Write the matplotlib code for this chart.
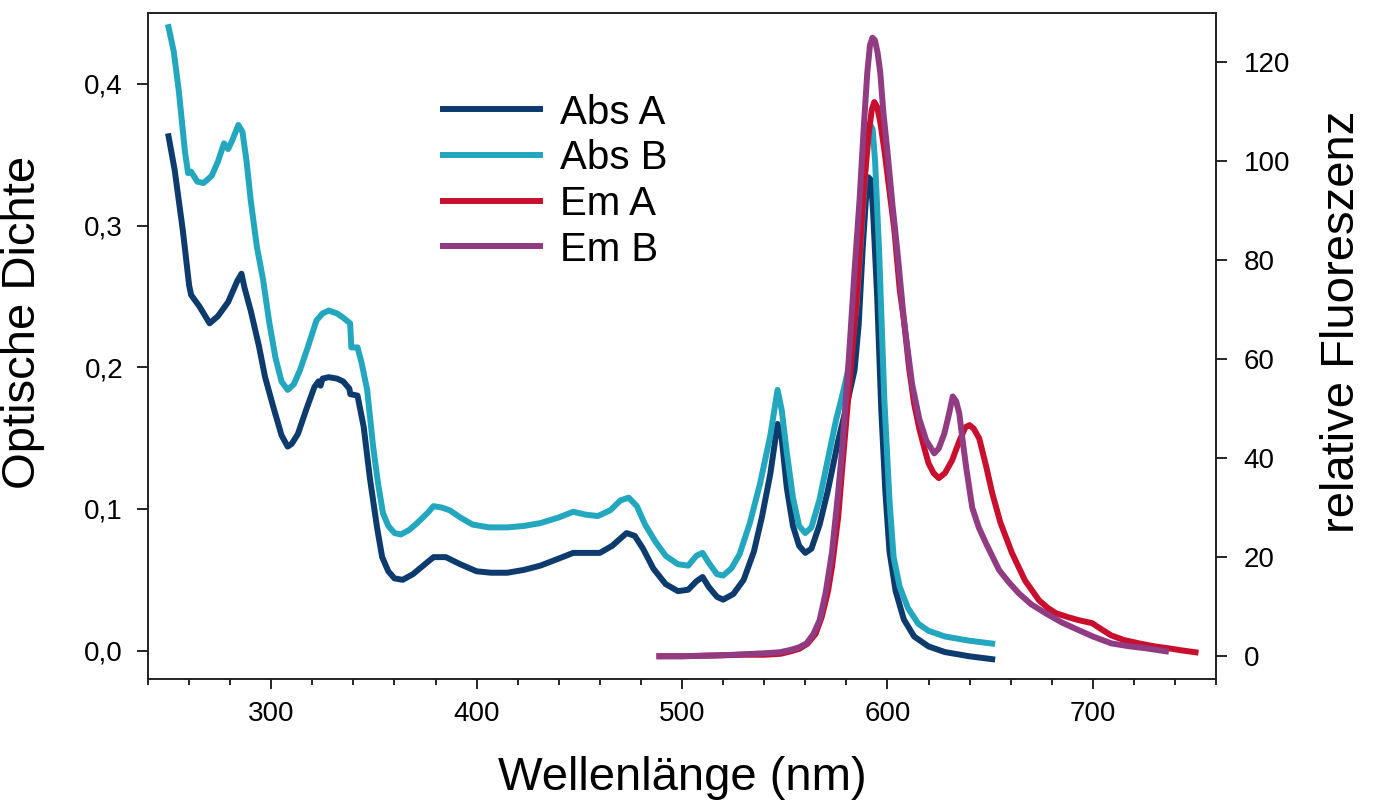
import matplotlib
matplotlib.use("Agg")
import matplotlib.pyplot as plt
from matplotlib.ticker import MultipleLocator, FuncFormatter

plt.rcParams['font.family'] = ['Liberation Sans', 'DejaVu Sans']

# Absorption A (optische Dichte)
wl_abs_a = [250, 253, 257, 260, 261, 265, 270, 274, 279, 283.5, 285.5, 287, 290, 294, 297,
            301, 305, 308, 310, 313, 317, 321, 323, 324, 325, 328, 332, 335, 338, 338.5,
            342, 345, 348, 351.5, 354, 357, 360, 364, 369, 374, 379, 385, 392, 400, 407,
            415, 423, 431, 440, 447, 454, 460, 466, 473, 477, 481, 486, 492, 498, 503,
            507, 510, 513, 517, 520, 525, 530, 535, 539, 543, 546.5, 548.5, 551, 554, 557,
            560, 563, 567, 571, 576, 580, 584, 586, 588, 589.5, 590.8, 592, 593, 595, 597, 599,
            601, 604, 608, 613, 620, 628, 640, 651]
od_abs_a = [0.363, 0.339, 0.296, 0.258, 0.251, 0.243, 0.231, 0.236, 0.246, 0.261, 0.266, 0.256,
            0.240, 0.215, 0.193, 0.172, 0.152, 0.144, 0.146, 0.153, 0.170, 0.186, 0.190, 0.187,
            0.192, 0.193, 0.192, 0.190, 0.185, 0.181, 0.180, 0.158, 0.122, 0.087, 0.066, 0.056,
            0.051, 0.050, 0.054, 0.060, 0.066, 0.066, 0.061, 0.056, 0.055, 0.055, 0.057, 0.060,
            0.065, 0.069, 0.069, 0.069, 0.074, 0.083, 0.081, 0.072, 0.058, 0.047, 0.042, 0.043,
            0.049, 0.052, 0.045, 0.038, 0.036, 0.040, 0.050, 0.070, 0.095, 0.125, 0.160, 0.150,
            0.115, 0.088, 0.074, 0.069, 0.072, 0.089, 0.113, 0.148, 0.172, 0.198, 0.230, 0.285,
            0.318, 0.334, 0.332, 0.310, 0.250, 0.170, 0.112, 0.070, 0.042, 0.022, 0.010, 0.003,
            -0.001, -0.004, -0.006]

# Absorption B
wl_abs_b = [250, 252.5, 255, 258, 259.5, 261, 264, 267, 271, 274, 277, 279, 281, 284, 286,
            288, 290, 293, 296, 299, 302, 305, 308, 311, 314, 318, 322, 325, 328, 332, 335,
            338.4, 339, 342, 344, 346.7, 349.6, 352, 354.4, 357, 360, 363, 367, 371, 376,
            379, 383, 387, 392, 398, 406, 415, 423, 431, 440, 447, 453, 459, 465, 470, 474,
            478, 482, 487, 492, 498, 503, 507, 510, 513, 517, 520, 524, 528, 533, 538, 543,
            546.5, 548.5, 551, 554, 557, 560, 563, 567, 571, 575, 578, 582, 585, 588, 589.8,
            591.3, 592.8, 594, 596, 598.5, 601, 603, 606, 610, 615, 620, 628, 640, 651]
od_abs_b = [0.440, 0.423, 0.395, 0.352, 0.337, 0.338, 0.331, 0.330, 0.335, 0.345, 0.358, 0.354,
            0.360, 0.371, 0.366, 0.345, 0.318, 0.285, 0.262, 0.232, 0.207, 0.190, 0.184, 0.188,
            0.198, 0.215, 0.233, 0.238, 0.240, 0.238, 0.235, 0.231, 0.214, 0.214, 0.203, 0.184,
            0.144, 0.118, 0.097, 0.088, 0.083, 0.082, 0.085, 0.090, 0.097, 0.102, 0.101, 0.099,
            0.094, 0.089, 0.087, 0.087, 0.088, 0.090, 0.094, 0.098, 0.096, 0.095, 0.099, 0.106,
            0.108, 0.102, 0.089, 0.077, 0.067, 0.061, 0.060, 0.067, 0.069, 0.062, 0.054, 0.053,
            0.058, 0.068, 0.090, 0.118, 0.152, 0.184, 0.170, 0.140, 0.108, 0.088, 0.083, 0.087,
            0.107, 0.135, 0.163, 0.180, 0.205, 0.245, 0.310, 0.352, 0.372, 0.368, 0.345, 0.280,
            0.177, 0.106, 0.066, 0.045, 0.030, 0.019, 0.014, 0.010, 0.007, 0.005]

# Emission A (relative Fluoreszenz)
wl_em_a = [489, 500, 510, 520, 530, 540, 548, 553, 557, 561, 565, 568, 571, 573, 576, 578,
           581.5, 585, 588.8, 591, 592.4, 593.6, 595, 596.5, 598.6, 601, 603.4, 606, 608, 610.6,
           613, 615.5, 618, 620, 622.5, 625, 628, 631.5, 635, 638, 640, 642, 644.7, 648, 651,
           655, 660.7, 667, 673.8, 678, 682, 688, 693, 699.6, 704, 709, 715, 722.5, 730, 737,
           743, 750]
fl_em_a = [0.0, 0.0, 0.1, 0.2, 0.3, 0.3, 0.5, 1.0, 1.5, 2.5, 4.5, 7.9, 13, 18, 28, 38,
           55, 72, 96, 106, 110.5, 112, 111, 108, 102, 94, 86, 74, 68, 58,
           51, 46, 42, 39, 37, 36, 37, 39.6, 43.5, 46.3, 46.7, 46, 44, 38.5, 33,
           27, 20.8, 15.3, 11.3, 9.8, 8.7, 7.9, 7.3, 6.7, 5.5, 4.2, 3.3, 2.6, 2.0, 1.6,
           1.2, 0.8]

# Emission B
wl_em_b = [489, 500, 510, 520, 530, 540, 547.5, 553, 557, 560.6, 564, 567, 570, 573, 576,
           578, 581.5, 584, 586.4, 588.5, 590.2, 591.5, 592.7, 593.9, 595.2, 596.5, 598, 600,
           602.5, 604.8, 608, 612, 615.5, 618.9, 622.8, 625, 627.7, 630, 631.8, 633.5, 635,
           636.8, 638.4, 641.3, 644.5, 648, 654.4, 659, 664, 670, 677, 685, 693, 700, 709,
           718, 726, 735.6]
fl_em_b = [0.0, 0.0, 0.1, 0.2, 0.4, 0.6, 0.8, 1.3, 1.8, 2.6, 4.5, 7.3, 13, 21, 33,
           42, 62, 78, 92, 107, 118, 123.5, 125, 124.5, 122, 118, 110, 102,
           91, 82, 68, 55, 48, 43.6, 41, 42, 45, 49, 52.5, 51.5, 49,
           43, 38, 30, 26, 22.8, 17.4, 15, 12.7, 10.5, 8.7, 6.8, 5.3, 4.0, 2.6,
           2.0, 1.6, 1.0]

farben = {'Abs A': '#0d3b6e', 'Abs B': '#22a7be', 'Em A': '#c8102e', 'Em B': '#913b82'}
lw = 4.3

fig, ax = plt.subplots(figsize=(13.73, 8.01), dpi=100)
fig.subplots_adjust(left=0.1078, right=0.8857, bottom=0.1523, top=0.9838)
ax2 = ax.twinx()

l1, = ax.plot(wl_abs_a, od_abs_a, color=farben['Abs A'], lw=lw, label='Abs A')
l2, = ax.plot(wl_abs_b, od_abs_b, color=farben['Abs B'], lw=lw, label='Abs B')
l3, = ax2.plot(wl_em_a, fl_em_a, color=farben['Em A'], lw=lw, label='Em A')
l4, = ax2.plot(wl_em_b, fl_em_b, color=farben['Em B'], lw=lw, label='Em B')

ax.set_xlim(240, 760)
ax.set_ylim(-0.02, 0.45)
ax2.set_ylim(-4.6, 130)

ax.xaxis.set_major_locator(MultipleLocator(100))
ax.xaxis.set_minor_locator(MultipleLocator(20))
ax.yaxis.set_major_locator(MultipleLocator(0.1))
ax.yaxis.set_major_formatter(FuncFormatter(lambda v, p: f'{v:.1f}'.replace('.', ',')))
ax2.yaxis.set_major_locator(MultipleLocator(20))

for a in (ax, ax2):
    for s in a.spines.values():
        s.set_linewidth(1.2)
        s.set_color('#222222')

ax.tick_params(axis='x', which='major', length=7, width=1.2, pad=9, labelsize=20)
ax.tick_params(axis='x', which='minor', length=4.5, width=1.2)
ax.tick_params(axis='y', length=8, width=1.2, pad=10, labelsize=20)
ax2.tick_params(axis='y', length=8, width=1.2, pad=12, labelsize=20)

ax.set_xlabel('Wellenlänge (nm)', fontsize=34)
ax.set_ylabel('Optische Dichte', fontsize=34)
ax2.set_ylabel('relative Fluoreszenz', fontsize=34)
ax.xaxis.set_label_coords(0.5, -0.115)
ax.yaxis.set_label_coords(-0.096, 0.536)
ax2.yaxis.set_label_coords(1.097, 0.536)

ax2.legend(handles=[l1, l2, l3, l4], loc='upper left', bbox_to_anchor=(0.2762, 0.879),
           frameon=False, fontsize=29, borderpad=0, borderaxespad=0,
           handlelength=2.4, handletextpad=0.5, labelspacing=0.19)

plt.savefig('out.png', dpi=100)
